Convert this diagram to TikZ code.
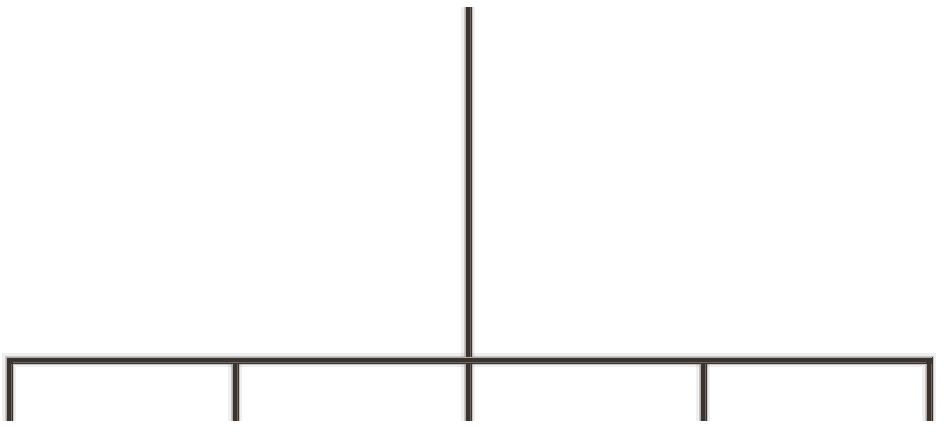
\documentclass[tikz,border=0pt]{standalone}
\usepackage{tikz}
\usetikzlibrary{calc}
\definecolor{barbrown}{HTML}{3B332E}
\definecolor{barlight}{HTML}{B5ADA8}
\definecolor{barmid}{HTML}{6E6662}
\definecolor{barshade}{HTML}{7A7A7A}

\begin{document}
\begin{tikzpicture}[x=1pt,y=-1pt,
    bar/.style={draw=barbrown,line width=7pt,line cap=butt,line join=miter},
    barshadow/.style={draw=barshade,line width=9pt,opacity=.35,line join=miter},
    barsoft/.style={draw=barshade,line width=14pt,opacity=.12,line join=miter},
    barglint/.style={draw=barlight,line width=1.3pt},
    baredge/.style={draw=barmid,line width=1pt}]
  \useasboundingbox (0,0) rectangle (945,436);

  % stem and bar ends
  \coordinate (top) at (468,7);
  \coordinate (hub) at (468,360);
  \coordinate (bl) at (9,360);
  \coordinate (br) at (929,360);
  % drops
  \foreach \n/\x in {1/9,2/235,3/468,4/703,5/929}{
    \coordinate (d\n) at (\x,421);
    \coordinate (t\n) at (\x,360);
  }

  % shadows
  \foreach \s in {barsoft,barshadow}{
    \begin{scope}[shift={(4,4)}]
      \draw[\s] (top) -- (hub);
      \draw[\s] (d1) -- (bl) -- (br) -- (d5);
      \foreach \n in {2,3,4} \draw[\s] (t\n) -- (d\n);
    \end{scope}
  }

  % bars
  \draw[bar] (top) -- (hub);
  \draw[bar] (d1) -- (bl) -- (br) -- (d5);
  \foreach \n in {2,3,4} \draw[bar] (t\n) -- (d\n);

  % glints on the upper and left faces
  \draw[barglint] ($(top)+(-2.6,0)$) -- ($(hub)+(-2.6,-3)$);
  \draw[barglint] ($(d1)+(-2.6,0)$) -- ($(bl)+(-2.6,-2.6)$) -- ($(br)+(2.6,-2.6)$);
  \foreach \n in {2,3,4} \draw[barglint] ($(t\n)+(-2.6,3.5)$) -- ($(d\n)+(-2.6,0)$);
  \draw[barglint] ($(d5)+(-2.6,0)$) -- ($(t5)+(-2.6,3.5)$);
  % darker faces on the lower and right sides
  \draw[baredge] ($(top)+(2.8,0)$) -- ($(hub)+(2.8,-3.5)$);
  \draw[baredge] ($(bl)+(3.5,2.8)$) -- ($(br)+(-3.5,2.8)$);
  \foreach \n in {1,...,5} \draw[baredge] ($(t\n)+(2.8,3.5)$) -- ($(d\n)+(2.8,0)$);
\end{tikzpicture}
\end{document}
